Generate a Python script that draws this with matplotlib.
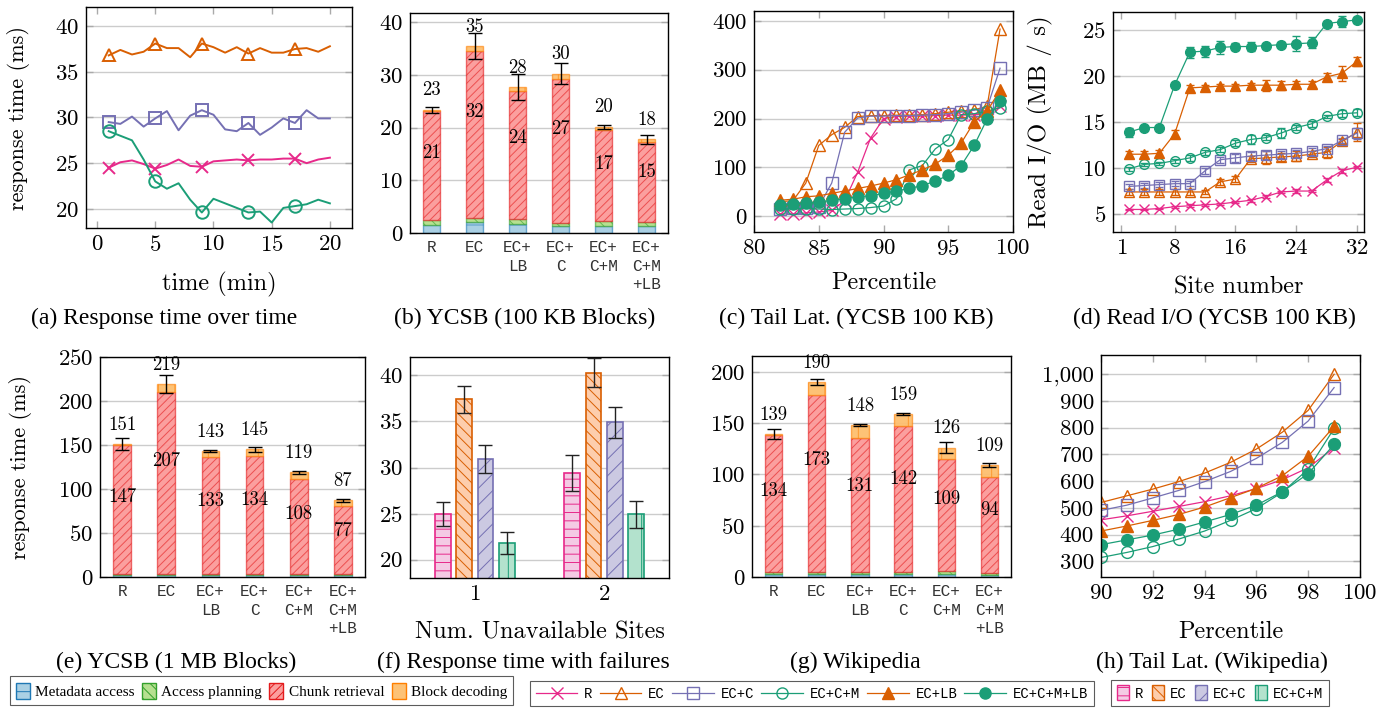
import matplotlib
matplotlib.use("Agg")
import matplotlib.pyplot as plt
from matplotlib.patches import Patch
from matplotlib.lines import Line2D
from matplotlib.colors import to_rgba
from matplotlib.ticker import FuncFormatter
import numpy as np

plt.rcParams['font.family'] = 'serif'
plt.rcParams['font.serif'] = ['cmr10']
plt.rcParams['axes.formatter.use_mathtext'] = True
plt.rcParams['mathtext.fontset'] = 'cm'
plt.rcParams['hatch.linewidth'] = 0.7

# couleurs (Dark2)
C_R, C_EC, C_ECC, C_ECCM = '#e7298a', '#d95f02', '#7570b3', '#1b9e77'

# (a) temps de réponse au cours du temps
temps_min = list(range(1, 21))
a_r = [24.5, 25.1, 25.3, 24.9, 24.4, 24.8, 25.4, 24.7, 24.6, 25.2,
       25.3, 25.4, 25.3, 25.4, 25.4, 25.5, 25.5, 25.0, 25.4, 25.6]
a_ec = [36.8, 37.4, 36.9, 37.2, 38.1, 37.6, 37.6, 36.6, 38.1, 37.7,
        37.1, 37.7, 37.0, 37.6, 37.1, 37.1, 37.5, 37.6, 37.2, 37.8]
a_ecc = [29.5, 29.3, 30.1, 29.0, 29.9, 30.7, 28.6, 30.2, 30.8, 30.3,
         28.7, 28.5, 29.4, 28.1, 28.9, 29.9, 29.4, 30.8, 29.9, 29.9]
a_eccm = [28.5, 28.0, 27.5, 25.4, 23.0, 22.2, 22.8, 21.0, 19.6, 21.1,
          20.6, 20.1, 19.6, 19.7, 18.5, 20.1, 20.3, 20.5, 21.0, 20.6]

# barres empilées
config = ['R', 'EC', 'EC+\nLB', 'EC+\nC', 'EC+\nC+M', 'EC+\nC+M\n+LB']
b_meta = [1.6, 2.0, 1.8, 1.3, 1.3, 1.3]
b_plan = [0.8, 0.8, 0.9, 0.6, 0.9, 0.8]
b_chunk = [20.8, 31.8, 24.2, 27.4, 17.4, 15.1]
b_decod = [0.2, 0.9, 0.8, 0.95, 0.6, 0.6]
b_err = [0.6, 2.5, 2.5, 2.0, 0.35, 0.8]
b_tot_lbl = [23, 35, 28, 30, 20, 18]
b_chunk_lbl = [21, 32, 24, 27, 17, 15]

e_meta = [2, 2, 2, 2, 2, 2]
e_plan = [1, 1, 1, 1, 1, 1.5]
e_chunk = [147, 207, 133, 134, 108, 77]
e_decod = [1, 9, 7, 8, 8, 6.5]
e_err = [7, 10, 1.5, 3, 2, 2]
e_tot_lbl = [151, 219, 143, 145, 119, 87]
e_chunk_lbl = [147, 207, 133, 134, 108, 77]

g_meta = [3, 3, 3, 3, 3, 2]
g_plan = [2, 2, 2, 2, 3, 2]
g_chunk = [134, 173, 131, 142, 109, 94]
g_decod = [0.5, 12, 12, 12, 11, 11]
g_err = [5, 3, 1, 1.3, 5.5, 2]
g_tot_lbl = [139, 190, 148, 159, 126, 109]
g_chunk_lbl = [134, 173, 131, 142, 109, 94]

# (c) latence de queue YCSB
c_pct = list(range(82, 100))
c_r = [5, 5, 7, 9, 12, 32, 90, 160, 200, 204, 205, 205, 206, 207, 207, 208, 210, 225]
c_ec = [30, 32, 68, 145, 167, 182, 204, 206, 206, 207, 207, 208, 210, 213, 215, 218, 225, 383]
c_ecc = [15, 17, 18, 20, 68, 172, 201, 205, 205, 206, 206, 207, 208, 210, 213, 217, 222, 303]
c_eccm = [15, 15, 16, 15, 14, 15, 16, 18, 21, 36, 95, 104, 138, 157, 208, 210, 215, 222]
c_eclb = [33, 35, 40, 42, 47, 52, 57, 62, 68, 75, 85, 95, 107, 125, 150, 193, 215, 258]
c_eccmlb = [23, 25, 27, 29, 33, 36, 40, 42, 47, 52, 57, 63, 72, 84, 104, 145, 199, 235]

# (d) lecture I/O par site
d_site = list(range(2, 33, 2))
d_r = [5.5, 5.5, 5.6, 5.8, 5.9, 6.0, 6.1, 6.3, 6.5, 6.9, 7.4, 7.5, 7.5, 8.7, 9.7, 10.1]
d_ec = [7.4, 7.4, 7.4, 7.4, 7.4, 7.4, 8.5, 8.8, 11.0, 11.1, 11.2, 11.3, 11.5, 11.7, 12.9, 13.9]
d_ecc = [8.0, 8.1, 8.2, 8.3, 8.3, 9.7, 10.9, 11.1, 11.3, 11.4, 11.5, 11.6, 11.8, 12.1, 13.0, 13.8]
d_eccm = [9.9, 10.4, 10.5, 10.8, 11.1, 11.7, 12.0, 12.7, 13.1, 13.3, 13.8, 14.4, 14.8, 15.6, 15.9, 16.0]
d_eclb = [11.5, 11.5, 11.6, 13.7, 18.7, 18.8, 18.9, 18.9, 19.0, 19.0, 19.0, 19.1, 19.1, 19.9, 20.3, 21.6]
d_eccmlb = [13.9, 14.4, 14.4, 19.0, 22.6, 22.7, 23.1, 23.2, 23.2, 23.3, 23.4, 23.5, 23.6, 25.7, 25.9, 26.1]
d_r_err = [0.1, 0.1, 0.1, 0.1, 0.15, 0.1, 0.1, 0.15, 0.15, 0.15, 0.15, 0.2, 0.15, 0.2, 0.2, 0.15]
d_ec_err = [0.3, 0.3, 0.3, 0.3, 0.3, 0.2, 0.3, 0.3, 0.3, 0.7, 0.4, 0.5, 0.3, 0.6, 0.3, 1.0]
d_ecc_err = [0.3, 0.3, 0.3, 0.3, 0.3, 0.3, 0.3, 0.4, 0.4, 0.4, 0.4, 0.4, 0.4, 0.3, 0.3, 0.6]
d_eccm_err = [0.2, 0.2, 0.2, 0.2, 0.3, 0.3, 0.3, 0.3, 0.5, 0.3, 0.5, 0.3, 0.3, 0.2, 0.4, 0.4]
d_eclb_err = [0.3, 0.3, 0.4, 0.4, 0.3, 0.2, 0.2, 0.2, 0.2, 0.6, 0.5, 0.4, 0.4, 0.4, 0.8, 0.5]
d_eccmlb_err = [0.5, 0.2, 0.2, 0.2, 0.6, 0.6, 0.7, 0.4, 0.5, 0.2, 0.3, 0.8, 0.6, 0.3, 0.6, 0.3]

# (f) pannes
n_indispo = [1, 2]
f_r = [24.9, 29.4]
f_ec = [37.4, 40.3]
f_ecc = [30.9, 34.9]
f_eccm = [21.8, 24.9]
f_r_err = [1.3, 2.0]
f_ec_err = [1.5, 1.55]
f_ecc_err = [1.55, 1.7]
f_eccm_err = [1.2, 1.45]

# (h) latence de queue Wikipedia
h_pct = list(range(90, 100))
h_r = [455, 470, 487, 505, 523, 545, 572, 605, 650, 725]
h_ec = [520, 545, 570, 598, 630, 670, 720, 783, 865, 1000]
h_ecc = [490, 510, 537, 565, 598, 636, 685, 745, 825, 950]
h_eccm = [314, 333, 355, 383, 413, 453, 497, 558, 645, 797]
h_eclb = [413, 432, 453, 475, 503, 538, 573, 620, 693, 805]
h_eccmlb = [362, 380, 398, 420, 447, 475, 510, 560, 628, 737]

W, H = 1398, 715
TICK_FS = 16.5
XLAB_FS = 17.5
CAP_FS = 17

fig = plt.figure(figsize=(W / 100, H / 100), dpi=100)


def nouvel_axe(l, r, t, b):
    return fig.add_axes([l / W, 1 - b / H, (r - l) / W, (b - t) / H])


def style(ax, xticks=True):
    ax.tick_params(direction='in', top=xticks, right=True, color='#aaaaaa',
                   length=5, width=1, labelsize=TICK_FS, pad=5)
    if not xticks:
        ax.tick_params(axis='x', length=0)
    ax.grid(axis='y', color='#cccccc', lw=1)
    ax.set_axisbelow(True)
    for s in ax.spines.values():
        s.set_linewidth(1)


def xlabel(ax, texte, y_px, bas_px, haut_px):
    # y_px = centre voulu du texte ; l'ancre du label est son haut
    ax.set_xlabel(texte, fontsize=XLAB_FS)
    ax.xaxis.set_label_coords(0.5, (bas_px - (y_px - 11)) / (bas_px - haut_px))


def ylabel(ax, texte, x_px, gauche_px, droite_px, fs):
    # x_px = centre voulu ; l'ancre du label tourné est son bord droit
    ax.set_ylabel(texte, fontsize=fs)
    ax.yaxis.set_label_coords((x_px + fs * 0.62 - gauche_px) / (droite_px - gauche_px), 0.5)


def legende_fig(x, y, texte):
    fig.text(x / W, 1 - y / H, texte, ha='center', va='center',
             family='Liberation Serif', fontsize=CAP_FS)


SERIES = {
    'R': dict(color=C_R, marker='x', mfc=C_R),
    'EC': dict(color=C_EC, marker='^', mfc='none'),
    'EC+C': dict(color=C_ECC, marker='s', mfc='none'),
    'EC+C+M': dict(color=C_ECCM, marker='o', mfc='none'),
    'EC+LB': dict(color=C_EC, marker='^', mfc=C_EC),
    'EC+C+M+LB': dict(color=C_ECCM, marker='o', mfc=C_ECCM),
}

# (a)
ax = nouvel_axe(86, 352, 7, 228)
style(ax)
for nom, ys in [('EC', a_ec), ('EC+C', a_ecc), ('R', a_r), ('EC+C+M', a_eccm)]:
    s = SERIES[nom]
    ax.plot(temps_min, ys, color=s['color'], marker=s['marker'], mfc=s['mfc'],
            mec=s['color'], ms=9, mew=1.4, lw=1.4, markevery=4)
ax.set_xlim(-0.95, 21.9)
ax.set_ylim(17.9, 42.1)
ax.set_xticks([0, 5, 10, 15, 20])
ax.set_yticks([20, 25, 30, 35, 40])
xlabel(ax, 'time (min)', 283, 228, 7)
ylabel(ax, 'response time (ms)', 20, 86, 352, 16)
legende_fig(164, 318, '(a) Response time over time')

# barres empilées
PILE = [
    ('Metadata access', '#a6cee3', '#1f78b4', '-'),
    ('Access planning', '#b2df8a', '#33a02c', '\\\\\\'),
    ('Chunk retrieval', '#fb9a99', '#e31a1c', '////'),
    ('Block decoding', '#fdbf6f', '#ff7f00', '|'),
]


def barres_empilees(ax, parts, err, tot_lbl, chunk_lbl, frac):
    x = np.arange(len(config))
    bas = np.zeros(len(config))
    for (nom, fc, ec, h), vals in zip(PILE, parts):
        ax.bar(x, vals, 0.4, bottom=bas, facecolor=to_rgba(fc, 0.95),
               edgecolor=to_rgba(ec, 0.6), hatch=h, lw=1, zorder=2)
        bas = bas + np.array(vals)
    ax.errorbar(x, bas, yerr=err, fmt='none', ecolor='black', elinewidth=1,
                capsize=5, capthick=1, zorder=3)
    for xi, tot, tl, cl in zip(x, bas, tot_lbl, chunk_lbl):
        ax.annotate(str(tl), (xi, tot), xytext=(0, 14), textcoords='offset points',
                    ha='center', va='center', fontsize=13.5)
        ax.text(xi, tot * frac, str(cl), ha='center', va='center', fontsize=13.5, zorder=4)
    ax.set_xticks(x)
    ax.set_xticklabels(config, family='Liberation Mono', fontsize=11.5,
                       color='#333333', linespacing=1.3)
    ax.set_xlim(-0.5, 5.5)


# (b)
ax = nouvel_axe(410, 668, 13, 233)
style(ax, xticks=False)
barres_empilees(ax, [b_meta, b_plan, b_chunk, b_decod], b_err,
                b_tot_lbl, b_chunk_lbl, 0.65)
ax.set_ylim(0, 41.8)
ax.set_yticks([0, 10, 20, 30, 40])
legende_fig(525, 318, '(b) YCSB (100 KB Blocks)')

# (c)
ax = nouvel_axe(754, 1013, 11, 232)
style(ax)
for nom, ys in [('R', c_r), ('EC', c_ec), ('EC+C', c_ecc), ('EC+C+M', c_eccm),
                ('EC+LB', c_eclb), ('EC+C+M+LB', c_eccmlb)]:
    s = SERIES[nom]
    ax.plot(c_pct, ys, color=s['color'], marker=s['marker'], mfc=s['mfc'],
            mec=s['color'], ms=8, mew=1, lw=0.9)
ax.set_xlim(80, 100)
ax.set_ylim(-32, 420)
ax.set_xticks([80, 85, 90, 95, 100])
ax.set_yticks([0, 100, 200, 300, 400])
xlabel(ax, 'Percentile', 283, 232, 11)
legende_fig(856, 318, '(c) Tail Lat. (YCSB 100 KB)')

# (d)
ax = nouvel_axe(1113, 1364, 12, 232)
style(ax)
for nom, ys, er in [('R', d_r, d_r_err), ('EC', d_ec, d_ec_err), ('EC+C', d_ecc, d_ecc_err),
                    ('EC+C+M', d_eccm, d_eccm_err), ('EC+LB', d_eclb, d_eclb_err),
                    ('EC+C+M+LB', d_eccmlb, d_eccmlb_err)]:
    s = SERIES[nom]
    ax.errorbar(d_site, ys, yerr=er, color=s['color'], marker=s['marker'], mfc=s['mfc'],
                mec=s['color'], ms=7, mew=1, lw=0.9, elinewidth=0.9, capsize=3)
ax.set_xlim(-0.1, 32.9)
ax.set_ylim(3.05, 26.95)
ax.set_xticks([1, 8, 16, 24, 32])
ax.set_yticks([5, 10, 15, 20, 25])
xlabel(ax, 'Site number', 287, 232, 12)
ylabel(ax, 'Read I/O (MB / s)', 1042, 1113, 1364, 18)
legende_fig(1214, 318, '(d) Read I/O (YCSB 100 KB)')

# (e)
ax = nouvel_axe(100, 365, 357, 577)
style(ax, xticks=False)
barres_empilees(ax, [e_meta, e_plan, e_chunk, e_decod], e_err,
                e_tot_lbl, e_chunk_lbl, 0.6)
ax.set_ylim(0, 250)
ax.set_yticks([0, 50, 100, 150, 200, 250])
ylabel(ax, 'response time (ms)', 22, 100, 365, 16)
legende_fig(176, 662, '(e) YCSB (1 MB Blocks)')

# (f)
ax = nouvel_axe(410, 669, 357, 578)
style(ax, xticks=False)
PANNE = [
    ('R', f_r, f_r_err, C_R, '#f4cae4', '--'),
    ('EC', f_ec, f_ec_err, C_EC, '#fdcdac', '\\\\\\'),
    ('EC+C', f_ecc, f_ecc_err, C_ECC, '#cbc9e2', '//'),
    ('EC+C+M', f_eccm, f_eccm_err, C_ECCM, '#b3e2cd', '|'),
]
decal = [-0.2475, -0.0825, 0.0825, 0.2475]
for (nom, vals, err, ec, fc, h), dx in zip(PANNE, decal):
    xs = np.array(n_indispo) + dx
    ax.bar(xs, np.array(vals) - 17, 0.121, bottom=17, facecolor=fc, edgecolor=ec,
           hatch=h, lw=1.2, zorder=2)
    ax.errorbar(xs, vals, yerr=err, fmt='none', ecolor='#222222', elinewidth=1,
                capsize=5, capthick=1, zorder=3)
ax.set_xlim(0.5, 2.5)
ax.set_ylim(18, 42)
ax.set_xticks(n_indispo)
ax.set_yticks([20, 25, 30, 35, 40])
xlabel(ax, 'Num. Unavailable Sites', 632, 578, 357)
legende_fig(523, 662, '(f) Response time with failures')

# (g)
ax = nouvel_axe(752, 1011, 356, 577)
style(ax, xticks=False)
barres_empilees(ax, [g_meta, g_plan, g_chunk, g_decod], g_err,
                g_tot_lbl, g_chunk_lbl, 0.6)
ax.set_ylim(0, 215.6)
ax.set_yticks([0, 50, 100, 150, 200])
legende_fig(855, 662, '(g) Wikipedia')

# (h)
ax = nouvel_axe(1101, 1360, 355, 577)
style(ax)
for nom, ys in [('R', h_r), ('EC', h_ec), ('EC+C', h_ecc), ('EC+C+M', h_eccm),
                ('EC+LB', h_eclb), ('EC+C+M+LB', h_eccmlb)]:
    s = SERIES[nom]
    ax.plot(h_pct, ys, color=s['color'], marker=s['marker'], mfc=s['mfc'],
            mec=s['color'], ms=8.5, mew=1, lw=0.9)
ax.set_xlim(90, 100)
ax.set_ylim(241, 1072)
ax.set_xticks([90, 92, 94, 96, 98, 100])
ax.set_yticks(range(300, 1001, 100))
ax.yaxis.set_major_formatter(FuncFormatter(lambda v, p: f'{int(v):,}'))
xlabel(ax, 'Percentile', 632, 577, 355)
legende_fig(1212, 662, '(h) Tail Lat. (Wikipedia)')

# légendes du bas
h1 = [Patch(facecolor=to_rgba(fc, 0.95), edgecolor=ec, hatch=h, label=nom)
      for nom, fc, ec, h in PILE]
leg1 = fig.legend(handles=h1, loc='lower left', bbox_to_anchor=(2 / W, 2 / H), ncol=4,
                  prop={'family': 'Liberation Serif', 'size': 11}, frameon=True,
                  fancybox=False, edgecolor='#333333', handlelength=0.9, handleheight=1.3,
                  handletextpad=0.35, columnspacing=0.5, borderpad=0.4)

h2 = [Line2D([], [], color=s['color'], marker=s['marker'], mfc=s['mfc'], mec=s['color'],
             ms=8, mew=1, lw=0.9, label=nom) for nom, s in SERIES.items()]
leg2 = fig.legend(handles=h2, loc='lower center', bbox_to_anchor=(812 / W, 2 / H), ncol=6,
                  prop={'family': 'Liberation Mono', 'size': 10}, frameon=True,
                  fancybox=False, edgecolor='#333333', handlelength=3.0,
                  handletextpad=0.5, columnspacing=0.5, borderpad=0.4)

h3 = [Patch(facecolor=fc, edgecolor=ec, hatch=h, label=nom) for nom, _, _, ec, fc, h in PANNE]
leg3 = fig.legend(handles=h3, loc='lower center', bbox_to_anchor=(1220 / W, 2 / H), ncol=4,
                  prop={'family': 'Liberation Mono', 'size': 10}, frameon=True,
                  fancybox=False, edgecolor='#333333', handlelength=0.9, handleheight=1.3,
                  handletextpad=0.4, columnspacing=0.6, borderpad=0.4)
for lg in (leg1, leg2, leg3):
    lg.get_frame().set_linewidth(0.8)

fig.savefig('out.png', dpi=100)
